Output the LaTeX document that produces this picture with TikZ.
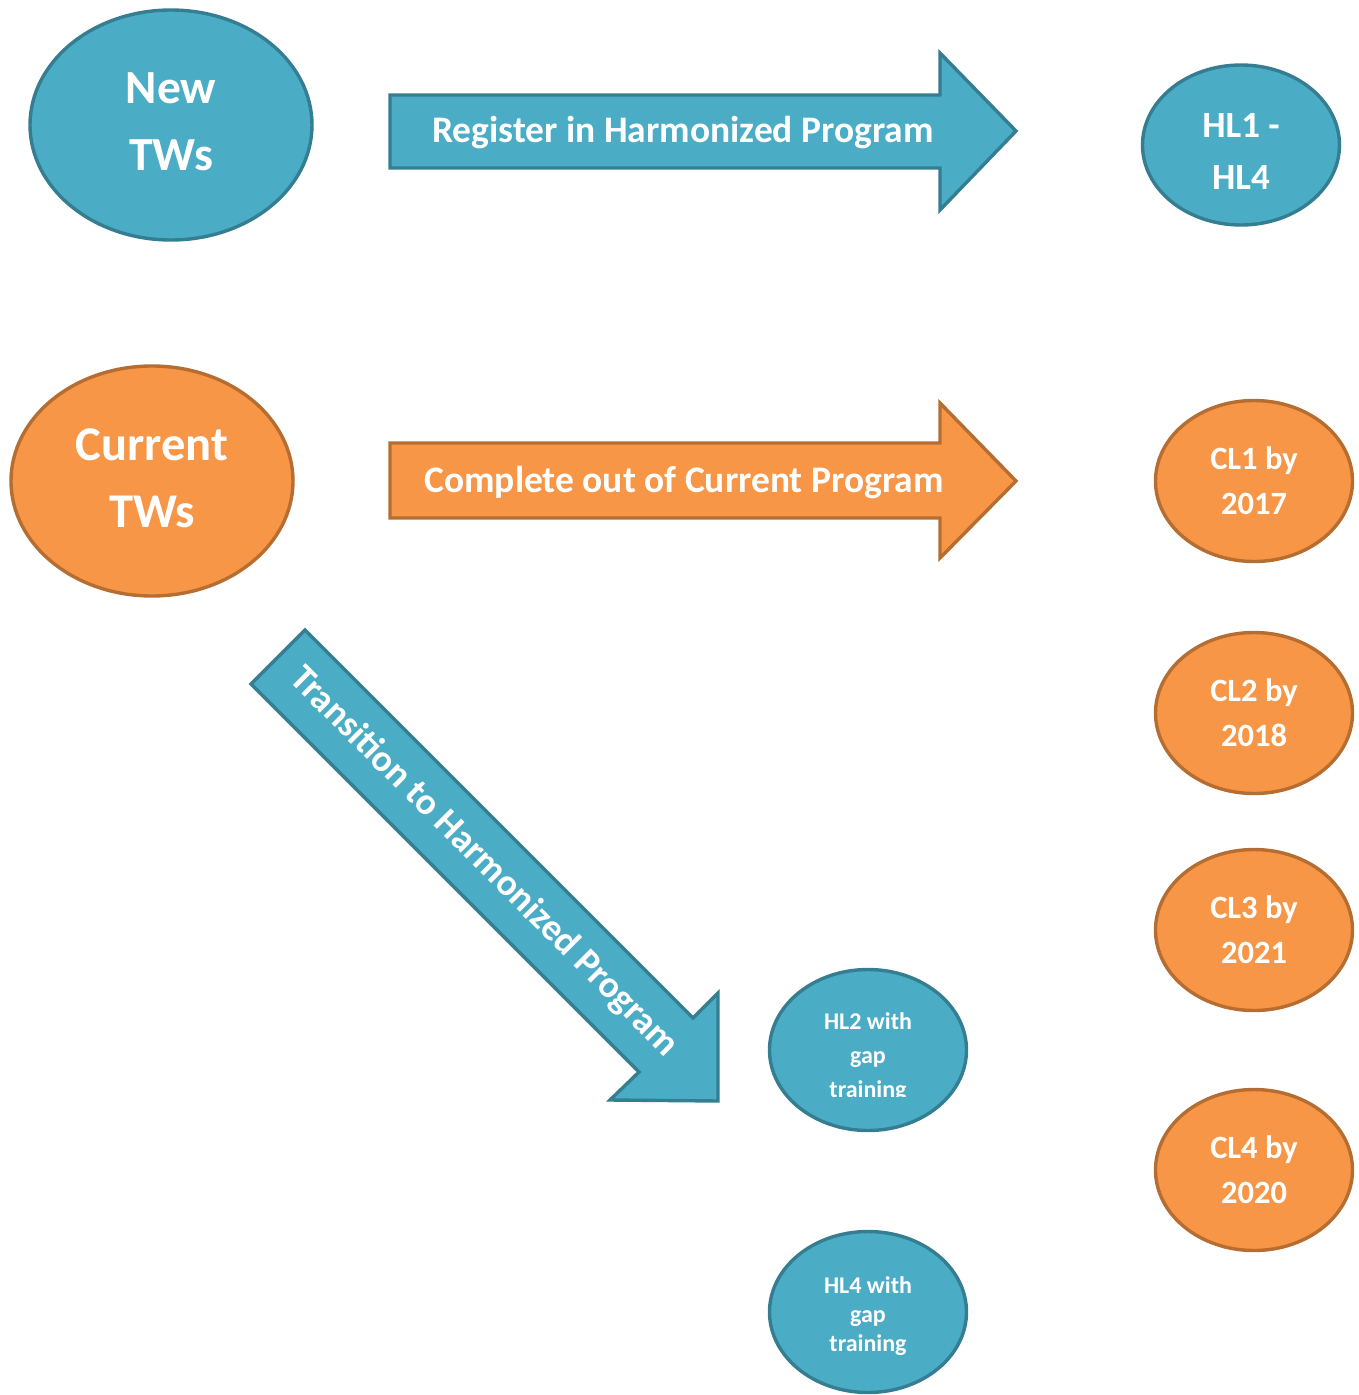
\documentclass[tikz,border=0pt]{standalone}
\usepackage{fontspec}
\setmainfont{Carlito}
\usetikzlibrary{shapes.geometric}
\definecolor{bfill}{HTML}{4BACC6}
\definecolor{bline}{HTML}{357D91}
\definecolor{ofill}{HTML}{F79646}
\definecolor{oline}{HTML}{B66D31}
\tikzset{
  blueshape/.style={fill=bfill, draw=bline, line width=3.4pt},
  orangeshape/.style={fill=ofill, draw=oline, line width=3.4pt},
  oval/.style={ellipse, inner sep=0pt, text=white, align=center, font=\bfseries},
  arrowtext/.style={text=white, font=\bfseries\fontsize{37.5}{45}\selectfont, inner sep=0pt},
  cltext/.style={font=\bfseries\fontsize{32.5}{45}\selectfont},
}
\begin{document}
\begin{tikzpicture}[x=1pt,y=-1pt]
\useasboundingbox (0,0) rectangle (1359,1395);
% left ovals
\node[oval, blueshape, minimum width=282pt, minimum height=230pt] (newtw) at (171,125) {};
\node[oval, font=\bfseries\fontsize{47.5}{67}\selectfont] (newtwt) at (171,122) {New\\TWs};
\node[oval, orangeshape, minimum width=282pt, minimum height=230pt] (curtw) at (152,481) {};
\node[oval, font=\bfseries\fontsize{48.5}{67}\selectfont] (curtwt) at (152,478) {Current\\TWs};
% right ovals
\node[oval, blueshape, minimum width=197pt, minimum height=160pt] (hl14) at (1241,145) {};
\node[oval, font=\bfseries\fontsize{37}{52}\selectfont] (hl14t) at (1241,151) {HL1 -\\HL4};
\node[oval, orangeshape, minimum width=197pt, minimum height=161pt, cltext] (cl1) at (1254,481) {CL1 by\\2017};
\node[oval, orangeshape, minimum width=197pt, minimum height=161pt, cltext] (cl2) at (1254,713) {CL2 by\\2018};
\node[oval, orangeshape, minimum width=197pt, minimum height=161pt, cltext] (cl3) at (1254,930) {CL3 by\\2021};
\node[oval, orangeshape, minimum width=197pt, minimum height=161pt, cltext] (cl4) at (1254,1170) {CL4 by\\2020};
% gap training ovals
\node[oval, blueshape, minimum width=197pt, minimum height=161pt] (hl2) at (868,1050) {};
\begin{scope}
  \clip (760,960) rectangle (980,1096);
  \node[oval, font=\bfseries\fontsize{24}{34}\selectfont] (hl2t) at (868,1057) {HL2 with\\gap\\training};
\end{scope}
\node[oval, blueshape, minimum width=197pt, minimum height=161pt] (hl4) at (868,1312) {};
\node[oval, font=\bfseries\fontsize{24}{29}\selectfont] (hl4t) at (868,1316) {HL4 with\\gap\\training};
% block arrows
\draw[blueshape, line join=miter] (390,95) -- (940,95) -- (940,53) -- (1016,131) -- (940,210) -- (940,168) -- (390,168) -- cycle;
\node[arrowtext] (reg) at (683,133) {Register in Harmonized Program};
\draw[orangeshape, line join=miter] (390,443) -- (940,443) -- (940,403) -- (1016,481) -- (940,558) -- (940,518) -- (390,518) -- cycle;
\node[arrowtext] (comp) at (684,483) {Complete out of Current Program};
\draw[blueshape, line join=miter] (305,630) -- (693,1018) -- (718,993) -- (718,1101) -- (610,1100) -- (639,1072) -- (251,684) -- cycle;
\node[arrowtext, rotate=-45] (trans) at (484,862) {Transition to Harmonized Program};
\end{tikzpicture}
\end{document}
